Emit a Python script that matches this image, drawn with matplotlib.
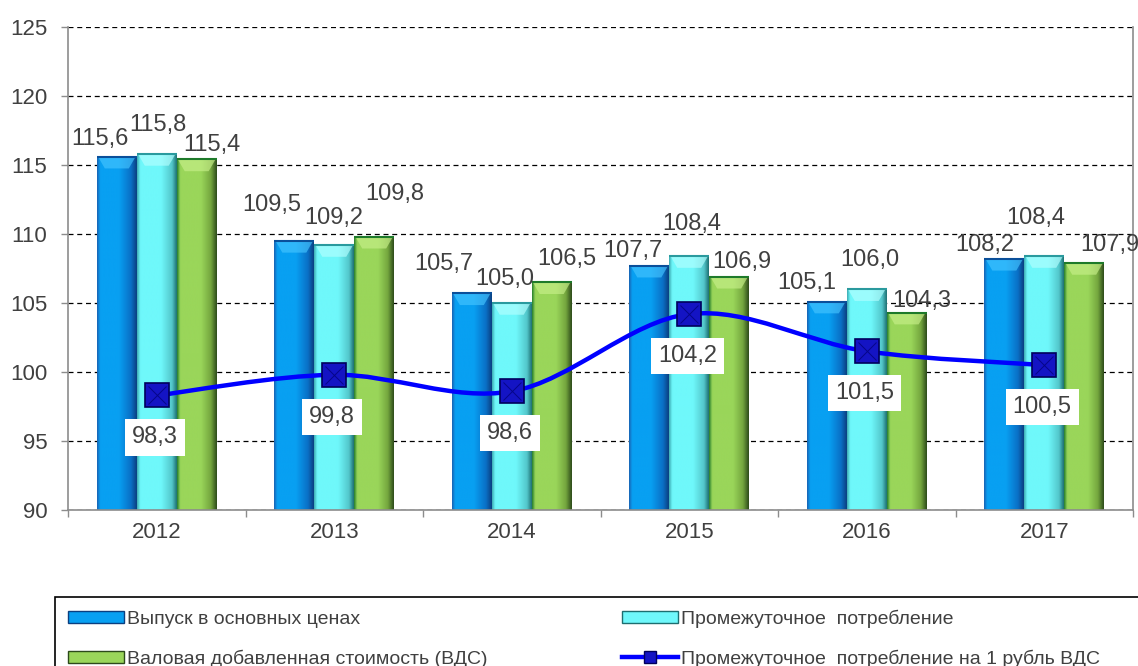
import matplotlib

matplotlib.use("Agg")

import matplotlib.pyplot as plt
import numpy as np
from matplotlib import font_manager
from matplotlib.colors import LinearSegmentedColormap
from matplotlib.lines import Line2D
from matplotlib.patches import Patch, PathPatch, Polygon, Rectangle
from matplotlib.path import Path


years = ["2012", "2013", "2014", "2015", "2016", "2017"]
output_basic = [115.6, 109.5, 105.7, 107.7, 105.1, 108.2]
intermediate = [115.8, 109.2, 105.0, 108.4, 106.0, 108.4]
gross_value_added = [115.4, 109.8, 106.5, 106.9, 104.3, 107.9]
per_ruble_gva = [98.3, 99.8, 98.6, 104.2, 101.5, 100.5]

legend_names = [
    "Выпуск в основных ценах",
    "Промежуточное  потребление",
    "Валовая добавленная стоимость (ВДС)",
    "Промежуточное  потребление на 1 рубль ВДС",
]

# label offsets (pixels) of the bar values, same as in the source chart
BAR_LABEL_SHIFT = [
    [(-17, 18), (1, 29), (15, 14)],
    [(-23, 36), (-1, 27), (21, 43)],
    [(-28, 29), (-7, 24), (15, 23)],
    [(-16, 15), (2, 32), (13, 15)],
    [(-20, 19), (3, 29), (15, 12)],
    [(-20, 14), (-8, 38), (26, 18)],
]

TEXT_COLOR = "#404040"
AXIS_COLOR = "#8c8c8c"
BAR_WIDTH = 0.225

BLUE_STOPS = [(0.0, "#1a5fb0"), (0.08, "#08a0f2"), (0.55, "#08a0f2"), (0.85, "#0a70c6"), (1.0, "#0b3f80")]
CYAN_STOPS = [(0.0, "#3aa8b0"), (0.08, "#6ff8fb"), (0.6, "#6ff8fb"), (0.88, "#52c6ca"), (1.0, "#1d6e70")]
GREEN_STOPS = [(0.0, "#1f7a2a"), (0.08, "#9ad65a"), (0.6, "#9ad65a"), (0.85, "#74a63e"), (1.0, "#2c4a1a")]


def pick_font(names):
    available = {f.name for f in font_manager.fontManager.ttflist}
    for name in names:
        if name in available:
            return name
    return "DejaVu Sans"


def smooth_path(xs, ys):
    """Bezier path through the points, like the smoothed line in Excel."""
    pts = np.column_stack([xs, ys]).astype(float)
    n = len(pts)
    verts = [pts[0]]
    codes = [Path.MOVETO]
    for i in range(n - 1):
        p0 = pts[i - 1] if i > 0 else pts[i]
        p1 = pts[i]
        p2 = pts[i + 1]
        p3 = pts[i + 2] if i + 2 < n else p2
        verts += [p1 + (p2 - p0) / 6, p2 - (p3 - p1) / 6, p2]
        codes += [Path.CURVE4] * 3
    return Path(verts, codes)


def draw_gradient_bars(ax, bars, stops, bevel_color, edge_color):
    cmap = LinearSegmentedColormap.from_list("bar", stops)
    grad = np.linspace(0, 1, 256).reshape(1, -1)
    for bar in bars:
        x0, y0 = bar.get_x(), bar.get_y()
        w, h = bar.get_width(), bar.get_height()
        im = ax.imshow(grad, cmap=cmap, aspect="auto", interpolation="bicubic",
                       extent=(x0, x0 + w, y0, y0 + h), zorder=2.2)
        im.set_clip_path(bar)
        top = y0 + h
        bevel = Polygon([(x0 + 0.03 * w, top), (x0 + 0.97 * w, top),
                         (x0 + 0.8 * w, top - 0.85), (x0 + 0.2 * w, top - 0.85)],
                        closed=True, facecolor=bevel_color, edgecolor="none",
                        alpha=0.65, zorder=2.3)
        ax.add_patch(bevel)
        ax.plot([x0, x0 + w], [top, top], color=edge_color, lw=1.5, zorder=2.4,
                solid_capstyle="butt")


def main():
    base_font = pick_font(["Liberation Sans", "Arial"])
    legend_font = pick_font(["Liberation Sans Narrow", "Arial Narrow", "Liberation Sans"])
    plt.rcParams["font.family"] = [base_font, "DejaVu Sans"]

    fig = plt.figure(figsize=(11.38, 6.66), dpi=100)
    ax = fig.add_axes([68 / 1138, 1 - 510 / 666, (1133 - 68) / 1138, (510 - 27) / 666])

    x = np.arange(len(years))
    series = [output_basic, intermediate, gross_value_added]
    styles = [
        (BLUE_STOPS, "#45c4ff", "#0a4f9a"),
        (CYAN_STOPS, "#b4ffff", "#2a9a9e"),
        (GREEN_STOPS, "#c8f08a", "#1e7a2a"),
    ]

    for k, (values, (stops, bevel, edge)) in enumerate(zip(series, styles)):
        heights = np.array(values) - 90
        bars = ax.bar(x + (k - 1) * BAR_WIDTH, heights, BAR_WIDTH, bottom=90,
                      color=stops[2][1], edgecolor="none", zorder=2)
        draw_gradient_bars(ax, bars, stops, bevel, edge)
        for i, (bar, value) in enumerate(zip(bars, values)):
            dx, dy = BAR_LABEL_SHIFT[i][k]
            ax.annotate(f"{value:.1f}".replace(".", ","),
                        (bar.get_x() + bar.get_width() / 2, value),
                        xytext=(dx, dy), textcoords="offset pixels",
                        ha="center", va="center", fontsize=17, color=TEXT_COLOR, zorder=6,
                        annotation_clip=False)

    line = PathPatch(smooth_path(x, per_ruble_gva), fill=False, edgecolor="#0000ff",
                     lw=3.2, zorder=4)
    ax.add_patch(line)
    ax.plot(x, per_ruble_gva, linestyle="none", marker="s", markersize=17,
            markerfacecolor="#1414c4", markeredgecolor="#00005c", markeredgewidth=1.2, zorder=5)
    ax.plot(x, per_ruble_gva, linestyle="none", marker="x", markersize=13,
            markeredgecolor="#000070", markeredgewidth=0.7, alpha=0.7, zorder=5.1)
    for xi, value in zip(x, per_ruble_gva):
        ax.annotate(f"{value:.1f}".replace(".", ","), (xi, value),
                    xytext=(-2, -42), textcoords="offset pixels",
                    ha="center", va="center", fontsize=17, color=TEXT_COLOR, zorder=6,
                    bbox=dict(boxstyle="square,pad=0.3", facecolor="white", edgecolor="none"))

    ax.set_xlim(-0.5, len(years) - 0.5)
    ax.set_ylim(90, 125)
    ax.set_yticks(np.arange(90, 126, 5))
    ax.set_xticks(x)
    ax.set_xticklabels(years)
    ax.set_xticks(np.arange(-0.5, len(years), 1.0), minor=True)
    ax.tick_params(axis="x", which="major", length=0, pad=9, labelsize=16, labelcolor=TEXT_COLOR)
    ax.tick_params(axis="x", which="minor", length=5, width=1, color=AXIS_COLOR)
    ax.tick_params(axis="y", length=5, width=1, color=AXIS_COLOR, pad=10,
                   labelsize=16, labelcolor=TEXT_COLOR)

    ax.grid(axis="y", color="black", linestyle=(0, (4, 3)), linewidth=0.9)
    ax.set_axisbelow(True)
    ax.spines["top"].set_visible(False)
    for side in ["left", "bottom", "right"]:
        ax.spines[side].set_color(AXIS_COLOR)
        ax.spines[side].set_linewidth(1.2)

    # legend box runs past the right and bottom edges of the image
    fig.patches.append(Rectangle((55 / 1138, -0.2), 1.2, 0.2 + 1 - 597 / 666,
                                 transform=fig.transFigure, facecolor="none",
                                 edgecolor="black", linewidth=1.2))

    handles = [
        Patch(facecolor="#08a0f2", edgecolor="#0b3f80"),
        Patch(facecolor="#9ad65a", edgecolor="#2c4a1a"),
        Patch(facecolor="#6ff8fb", edgecolor="#1d6e70"),
        Line2D([0], [0], color="#0000ff", lw=3.2, marker="s", markersize=9,
               markerfacecolor="#1414c4", markeredgecolor="#00005c"),
    ]
    labels = [legend_names[0], legend_names[2], legend_names[1], legend_names[3]]
    leg = fig.legend(handles, labels, ncol=2, loc="upper left",
                     bbox_to_anchor=(55 / 1138, 1 - 597 / 666), borderaxespad=0,
                     frameon=False,
                     prop={"family": legend_font, "size": 14},
                     handlelength=2.9, handleheight=0.6, handletextpad=0.15,
                     borderpad=0.65, labelspacing=1.1, columnspacing=6.9)
    for text in leg.get_texts():
        text.set_color(TEXT_COLOR)

    fig.savefig("out.png", dpi=100)
    plt.close(fig)


if __name__ == "__main__":
    main()
